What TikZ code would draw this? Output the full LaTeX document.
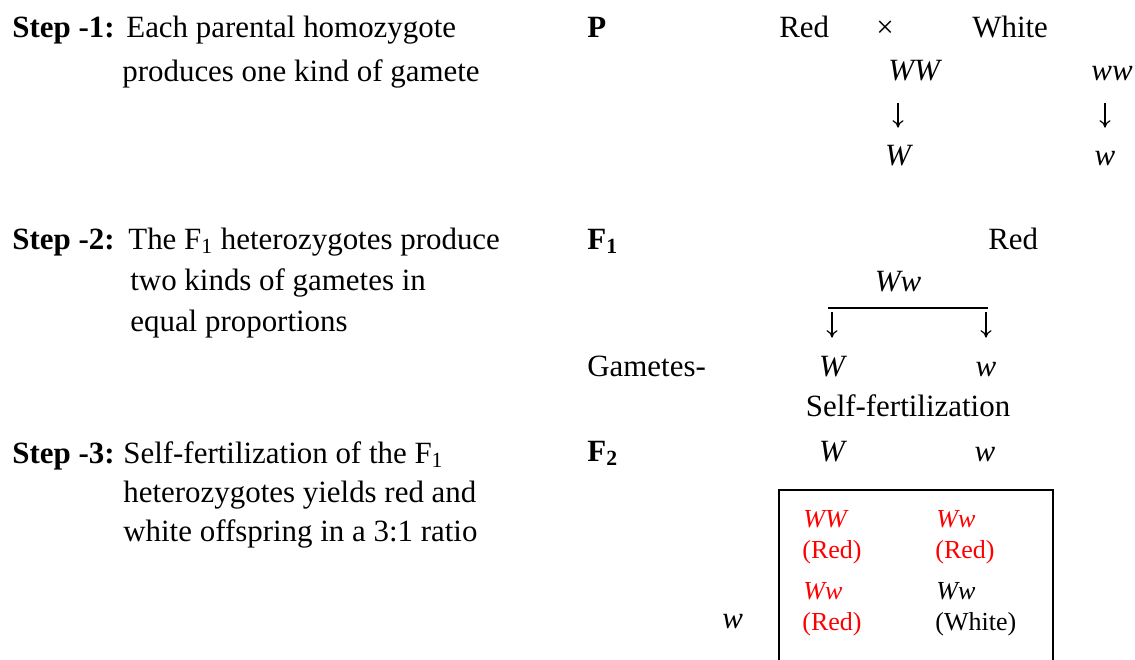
\documentclass[tikz,border=0pt]{standalone}
\usepackage{fontspec}
\setmainfont{Liberation Serif}
\usetikzlibrary{arrows.meta}

\begin{document}
\begin{tikzpicture}[
 txt/.style={inner sep=0pt,anchor=base west,font=\fontsize{17.6}{21}\selectfont},
 hd/.style={txt,font=\fontsize{17.6}{21}\selectfont\bfseries},
 gen/.style={txt,font=\fontsize{17.6}{21}\selectfont\itshape,
             text height=0.42cm,text depth=0cm},
 cell/.style={inner sep=0pt,anchor=base west,font=\fontsize{14.8}{18}\selectfont},
 down/.style={line width=0.7pt,-{To[length=1.5mm,width=2.2mm]}}]

\useasboundingbox (0,0) rectangle (22.7,-13.18);

% the three steps
\node[hd]  (s1)  at (0.24,-0.74) {Step -1:};
\node[txt] (s1a) at (2.52,-0.74) {Each parental homozygote};
\node[txt] (s1b) at (2.44,-1.62) {produces one kind of gamete};

\node[hd]  (s2)  at (0.24,-4.98) {Step -2:};
\node[txt] (s2a) at (2.56,-4.98) {The F\textsubscript{1} heterozygotes produce};
\node[txt] (s2b) at (2.60,-5.80) {two kinds of gametes in};
\node[txt] (s2c) at (2.60,-6.62) {equal proportions};

\node[hd]  (s3)  at (0.24,-9.26) {Step -3:};
\node[txt] (s3a) at (2.46,-9.26) {Self-fertilization of the F\textsubscript{1}};
\node[txt] (s3b) at (2.46,-10.04) {heterozygotes yields red and};
\node[txt] (s3c) at (2.46,-10.82) {white offspring in a 3:1 ratio};

% parents
\node[hd]  (p)      at (11.74,-0.74) {P};
\node[txt] (pred)   at (15.58,-0.74) {Red};
\node[txt,anchor=base] (cross) at (17.70,-0.74) {×};
\node[txt] (pwhite) at (19.44,-0.74) {White};
\node[gen] (WW) at (17.76,-1.60) {WW};
\node[gen] (ww) at (21.82,-1.60) {ww};
\node[gen,anchor=base] (W) at (17.96,-3.30) {W};
\node[gen,anchor=base] (w) at (22.10,-3.30) {w};
\draw[down,shorten <=0.46cm,shorten >=0.32cm] (WW.south -| W) -- (W.north);
\draw[down,shorten <=0.46cm,shorten >=0.32cm] (ww.south -| w) -- (w.north);

% F1 and its gametes
\node[hd]  (f1)    at (11.74,-4.98) {F\textsubscript{1}};
\node[txt] (f1red) at (19.76,-4.98) {Red};
\node[gen,anchor=base] (Ww) at (17.96,-5.82) {Ww};
\coordinate (split) at (17.96,-6.16);
\node[txt] (gam) at (11.74,-7.52) {Gametes-};
\node[gen,anchor=base] (gW) at (16.64,-7.52) {W};
\node[gen,anchor=base] (gw) at (19.72,-7.52) {w};
\draw[line width=1.1pt,shorten <=-0.08cm,shorten >=-0.04cm] (gW |- split) -- (gw |- split);
\draw[down,shorten <=0.08cm,shorten >=0.34cm] (gW |- split) -- (gW.north);
\draw[down,shorten <=0.08cm,shorten >=0.34cm] (gw |- split) -- (gw.north);

\node[txt,anchor=base] (selfing) at (18.16,-8.32) {Self-fertilization};

% F2 square
\node[hd] (f2) at (11.74,-9.22) {F\textsubscript{2}};
\node[gen,anchor=base] (fW) at (16.64,-9.22) {W};
\node[gen,anchor=base] (fw) at (19.70,-9.22) {w};
\node[gen] (rw) at (14.44,-12.56) {w};
\draw[line width=1.1pt] (15.58,-9.80) rectangle (21.06,-13.6);

\node[cell,red,font=\fontsize{14.8}{18}\selectfont\itshape] (c11) at (16.06,-10.54) {WW};
\node[cell,red] (c11p) at (16.04,-11.16) {(Red)};
\node[cell,red,font=\fontsize{14.8}{18}\selectfont\itshape] (c12) at (18.72,-10.54) {Ww};
\node[cell,red] (c12p) at (18.70,-11.16) {(Red)};
\node[cell,red,font=\fontsize{14.8}{18}\selectfont\itshape] (c21) at (16.06,-11.98) {Ww};
\node[cell,red] (c21p) at (16.04,-12.60) {(Red)};
\node[cell,font=\fontsize{14.8}{18}\selectfont\itshape] (c22) at (18.72,-11.98) {Ww};
\node[cell] (c22p) at (18.70,-12.60) {(White)};
\end{tikzpicture}
\end{document}
